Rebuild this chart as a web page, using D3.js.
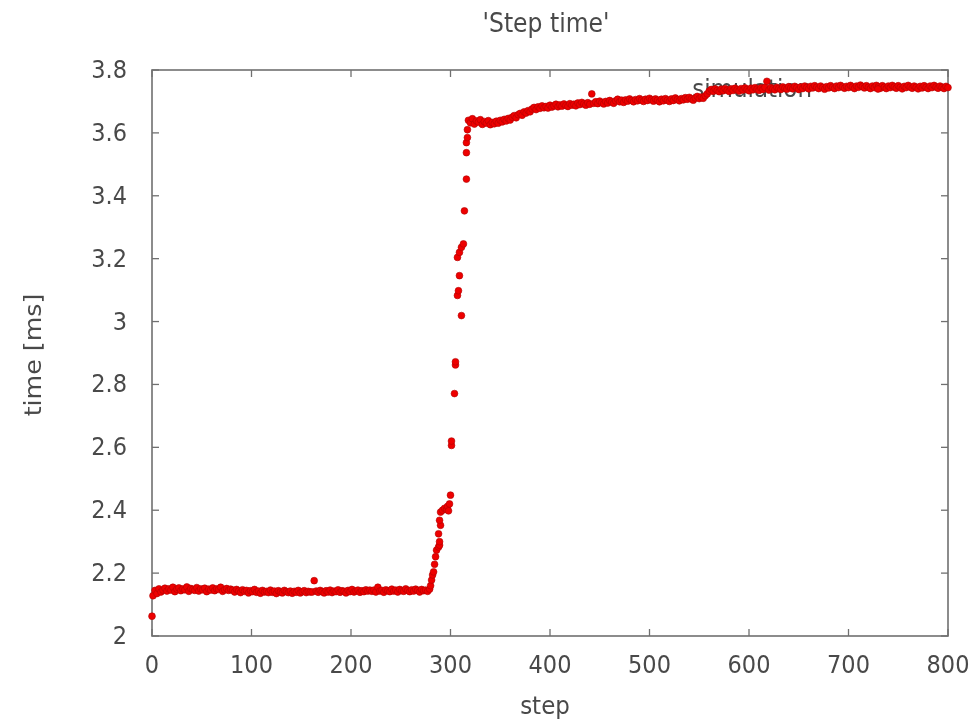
<!DOCTYPE html>
<html><head><meta charset="utf-8">
<script src="https://cdn.jsdelivr.net/npm/d3@7"></script>
<style>body{margin:0;background:#fff}</style>
</head><body><svg id="c" width="976" height="722"></svg>
<script>
// ---- data ----
const chartTitle = "'Step time'";
const xLabel = "step";
const yLabel = "time [ms]";
const legendLabel = "simulation";
const xTicks = [0, 100, 200, 300, 400, 500, 600, 700, 800];
const yTicks = [2, 2.2, 2.4, 2.6, 2.8, 3, 3.2, 3.4, 3.6, 3.8];

// first sample
const firstPoint = [0, 2.063];

// low plateau: steps 1,3,5,...,279
const lowStart = 1, lowStride = 2;
const lowTimes = [
 2.128, 2.145, 2.135, 2.150, 2.140, 2.146,
 2.152, 2.143, 2.150, 2.146, 2.155, 2.141, 2.149, 2.153, 2.144, 2.150,
 2.147, 2.156, 2.142, 2.151, 2.148, 2.145, 2.154, 2.143, 2.150, 2.147,
 2.152, 2.141, 2.149, 2.146, 2.153, 2.144, 2.150, 2.148, 2.155, 2.142,
 2.147, 2.151, 2.145, 2.149,
 2.146, 2.140, 2.148, 2.143, 2.138, 2.147, 2.142, 2.145, 2.137, 2.144,
 2.141, 2.148, 2.139, 2.143, 2.136, 2.145, 2.140, 2.142, 2.138, 2.146,
 2.139, 2.143, 2.135, 2.144, 2.140, 2.137, 2.145, 2.141, 2.138, 2.143,
 2.136, 2.142, 2.139, 2.145, 2.137, 2.141, 2.144, 2.138, 2.142, 2.140,
 2.140, 2.176, 2.143, 2.139, 2.145, 2.141, 2.137, 2.144, 2.140, 2.146,
 2.138, 2.143, 2.141, 2.147, 2.139, 2.144, 2.142, 2.137, 2.145, 2.141,
 2.148, 2.140, 2.143, 2.146, 2.139, 2.144, 2.141, 2.147, 2.143, 2.146,
 2.142, 2.146, 2.140, 2.155, 2.143, 2.145, 2.139, 2.147, 2.144, 2.141,
 2.149, 2.143, 2.146, 2.140, 2.148, 2.144, 2.142, 2.150, 2.145, 2.141,
 2.147, 2.143, 2.149, 2.145, 2.140, 2.148, 2.144, 2.146, 2.142, 2.149
];

// transition: [step, time]
const transition = [
 [280, 2.160], [281, 2.178], [282, 2.194], [283, 2.204], [284, 2.228],
 [285, 2.252], [286, 2.273], [288, 2.283], [289, 2.289], [289, 2.300],
 [288, 2.325], [290, 2.352], [289, 2.368], [290, 2.394], [292, 2.400],
 [294, 2.406], [296, 2.402], [297, 2.412], [298, 2.398], [299, 2.420],
 [300, 2.448], [301, 2.606], [301, 2.620], [304, 2.771], [305, 2.862],
 [305, 2.872], [307, 3.083], [308, 3.098], [309, 3.146], [307, 3.204],
 [309, 3.220], [311, 3.019], [311, 3.236], [313, 3.247], [314, 3.352],
 [316, 3.453], [316, 3.537], [316, 3.569], [317, 3.585], [317, 3.610]
];

// high plateau: steps 318,320,...,800
const highStart = 318, highStride = 2;
const highTimes = [
 3.640, 3.632, 3.645, 3.628, 3.638, 3.634, 3.642, 3.627, 3.636, 3.631,
 3.639, 3.626, 3.633, 3.629, 3.637, 3.631, 3.640, 3.635, 3.643, 3.638,
 3.646, 3.641, 3.650, 3.655, 3.648, 3.658, 3.662, 3.656, 3.667, 3.663,
 3.671, 3.667, 3.676, 3.681, 3.674, 3.683, 3.678, 3.686, 3.680, 3.684,
 3.679, 3.688, 3.682, 3.686, 3.691, 3.683, 3.689, 3.685, 3.692, 3.687,
 3.684, 3.693, 3.688, 3.691, 3.686, 3.695, 3.690, 3.697, 3.692, 3.688,
 3.696, 3.691, 3.724, 3.694, 3.699, 3.693, 3.701, 3.696, 3.692, 3.700,
 3.695, 3.703, 3.698, 3.694, 3.702, 3.707, 3.699, 3.704, 3.697, 3.705,
 3.701, 3.708, 3.703, 3.699, 3.706, 3.702, 3.709, 3.704, 3.700, 3.707,
 3.703, 3.710, 3.705, 3.701, 3.708, 3.704, 3.699, 3.707, 3.702, 3.709,
 3.704, 3.700, 3.708, 3.703, 3.711, 3.706, 3.702, 3.709, 3.705, 3.712,
 3.707, 3.713, 3.708, 3.704, 3.711, 3.716, 3.709, 3.714, 3.710, 3.718,
 3.724, 3.733, 3.738, 3.732, 3.740, 3.735, 3.731, 3.739, 3.734, 3.741,
 3.736, 3.732, 3.740, 3.735, 3.742, 3.737, 3.733, 3.741, 3.736, 3.743,
 3.738, 3.734, 3.742, 3.737, 3.744, 3.739, 3.735, 3.743, 3.738, 3.745,
 3.764, 3.736, 3.744, 3.740, 3.737, 3.745, 3.741, 3.738, 3.746, 3.742,
 3.739, 3.747, 3.743, 3.740, 3.748, 3.744, 3.738, 3.746, 3.741, 3.749,
 3.744, 3.740, 3.748, 3.743, 3.750, 3.745, 3.741, 3.749, 3.744, 3.739,
 3.747, 3.743, 3.750, 3.745, 3.741, 3.749, 3.744, 3.751, 3.746, 3.742,
 3.748, 3.744, 3.751, 3.746, 3.741, 3.749, 3.745, 3.752, 3.747, 3.743,
 3.750, 3.745, 3.741, 3.749, 3.744, 3.751, 3.746, 3.742, 3.750, 3.745,
 3.741, 3.749, 3.744, 3.751, 3.746, 3.742, 3.750, 3.745, 3.740, 3.748,
 3.744, 3.751, 3.746, 3.742, 3.749, 3.745, 3.740, 3.748, 3.743, 3.750,
 3.745, 3.741, 3.749, 3.744, 3.751, 3.746, 3.742, 3.749, 3.745, 3.741,
 3.748, 3.744
];

// ---- build table ----
const points = [firstPoint];
lowTimes.forEach((t, i) => points.push([lowStart + i * lowStride, t]));
transition.forEach(p => points.push(p));
highTimes.forEach((t, i) => points.push([highStart + i * highStride, t]));

// ---- drawing ----
const svg = d3.select("#c");
const FONT = "DejaVu Sans, Verdana, sans-serif";
const TEXT = "#4a4a4a";
const FRAME = "#707070";
const VS = 1.1; // vertical stretch of the original image

const defs = svg.append("defs");
defs.append("filter").attr("id", "soft").attr("x", "-5%").attr("y", "-20%")
  .attr("width", "110%").attr("height", "140%")
  .append("feGaussianBlur").attr("stdDeviation", 0.6);
defs.append("filter").attr("id", "softtext")
  .append("feGaussianBlur").attr("stdDeviation", 0.35);

const x = d3.scaleLinear().domain([0, 800]).range([152, 948]);
const y = d3.scaleLinear().domain([2, 3.8]).range([636, 70]);

function text(px, py, str, size, anchor, rot) {
  const g = svg.append("g")
    .attr("transform", `translate(${px},${py}) scale(1,${VS})` + (rot ? ` rotate(${rot})` : ""));
  return g.append("text").attr("x", 0).attr("y", 0)
    .attr("text-anchor", anchor).attr("font-family", FONT)
    .attr("font-size", size).attr("fill", TEXT)
    .attr("filter", "url(#softtext)").text(str);
}

// frame
const [x0, x1] = x.range();
const [y0, y1] = y.range();
svg.append("rect").attr("x", x0).attr("y", y1)
  .attr("width", x1 - x0).attr("height", y0 - y1)
  .attr("fill", "none").attr("stroke", FRAME).attr("stroke-width", 1.6);

const TL = 7;
xTicks.forEach(v => {
  const px = x(v);
  svg.append("line").attr("x1", px).attr("x2", px).attr("y1", y0).attr("y2", y0 - TL)
    .attr("stroke", FRAME).attr("stroke-width", 1.3);
  svg.append("line").attr("x1", px).attr("x2", px).attr("y1", y1).attr("y2", y1 + TL)
    .attr("stroke", FRAME).attr("stroke-width", 1.3);
  text(px, y0 + 37, String(v), 22.5, "middle");
});
yTicks.forEach(v => {
  const py = y(v);
  svg.append("line").attr("x1", x0).attr("x2", x0 + TL).attr("y1", py).attr("y2", py)
    .attr("stroke", FRAME).attr("stroke-width", 1.3);
  svg.append("line").attr("x1", x1).attr("x2", x1 - TL).attr("y1", py).attr("y2", py)
    .attr("stroke", FRAME).attr("stroke-width", 1.3);
  text(127, py + 8, String(+v.toFixed(1)), 22.5, "end");
});

// titles
text(546, 32, chartTitle, 23.5, "middle");
text(545, 714, xLabel, 23, "middle");
text(41, 355, yLabel, 23, "middle", -90);

// legend (drawn under the points)
text(812, 97, legendLabel, 23, "end");

// points
const pg = svg.append("g").attr("filter", "url(#soft)");
pg.selectAll("circle").data(points).join("circle")
  .attr("cx", d => x(d[0])).attr("cy", d => y(d[1])).attr("r", 3.4)
  .attr("fill", "#ee0000").attr("stroke", "#b00000").attr("stroke-width", 0.6);

// legend sample point
pg.append("circle").attr("cx", 878).attr("cy", 89).attr("r", 3.4)
  .attr("fill", "#ee0000").attr("stroke", "#b00000").attr("stroke-width", 0.6);
</script>
</body></html>
